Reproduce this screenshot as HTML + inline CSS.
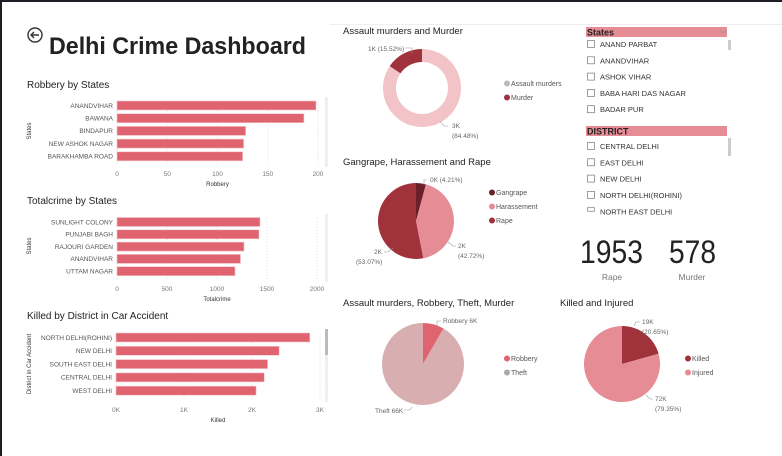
<!DOCTYPE html>
<html><head><meta charset="utf-8"><style>
html,body{margin:0;padding:0;background:#fff}
svg{display:block;font-family:"Liberation Sans",sans-serif}
</style></head><body>
<svg id="s" width="782" height="456" viewBox="0 0 782 456" xmlns="http://www.w3.org/2000/svg">
<rect x="0" y="0" width="782" height="2" fill="#1c1f26"/>
<rect x="0" y="0" width="2" height="456" fill="#1c1f26"/>
<line x1="330" y1="24.5" x2="782" y2="24.5" stroke="#eee"/>
<g><circle cx="35" cy="35" r="7" fill="none" stroke="#333" stroke-width="1.4"/><path d="M39 35H31M34 32l-3 3 3 3" fill="none" stroke="#333" stroke-width="1.4"/></g>
<text x="49" y="54" font-size="24" font-weight="bold" fill="#222" textLength="257" lengthAdjust="spacingAndGlyphs">Delhi Crime Dashboard</text>
<g id="bars"></g><g id="pies"></g>
<g>
<rect x="586" y="27" width="141" height="10" fill="#e58c94"/>
<text x="587" y="35.5" font-size="9" font-weight="bold" fill="#222">States</text>
<path d="M720 30l3 3 3-3" fill="none" stroke="#999" stroke-width="0.8"/>
<rect x="728" y="40" width="3" height="10" fill="#ccc"/>
</g>
<g>
<rect x="586" y="126" width="141" height="10" fill="#e58c94"/>
<text x="587" y="134.5" font-size="9" font-weight="bold" fill="#222">DISTRICT</text>
<rect x="728" y="138" width="3" height="18" fill="#ccc"/>
</g>
<g id="slicers"></g>
<text x="580" y="263" font-size="32" fill="#222" textLength="63" lengthAdjust="spacingAndGlyphs">1953</text>
<text x="612" y="280" font-size="8.5" fill="#777" text-anchor="middle">Rape</text>
<text x="669" y="263" font-size="32" fill="#222" textLength="47" lengthAdjust="spacingAndGlyphs">578</text>
<text x="692" y="280" font-size="8.5" fill="#777" text-anchor="middle">Murder</text>
</svg>
<script>
const robCats=["ANANDVIHAR","BAWANA","BINDAPUR","NEW ASHOK NAGAR","BARAKHAMBA ROAD"];
const robVals=[198,186,128,126,125];
const robTicks=[0,50,100,150,200];
const totCats=["SUNLIGHT COLONY","PUNJABI BAGH","RAJOURI GARDEN","ANANDVIHAR","UTTAM NAGAR"];
const totVals=[1430,1420,1270,1235,1180];
const totTicks=[0,500,1000,1500,2000];
const kilCats=["NORTH DELHI(ROHINI)","NEW DELHI","SOUTH EAST DELHI","CENTRAL DELHI","WEST DELHI"];
const kilVals=[2850,2400,2230,2180,2060];
const kilTicks=[0,1000,2000,3000];
const kilTickLabels=["0K","1K","2K","3K"];
const amCats=["Assault murders","Murder"];
const amVals=[84.48,15.52];
const grCats=["Gangrape","Harassement","Rape"];
const grVals=[4.21,42.72,53.07];
const rtCats=["Robbery","Theft"];
const rtVals=[6,66];
const kiCats=["Killed","Injured"];
const kiVals=[20.65,79.35];
const stateItems=["ANAND PARBAT","ANANDVIHAR","ASHOK VIHAR","BABA HARI DAS NAGAR","BADAR PUR"];
const districtItems=["CENTRAL DELHI","EAST DELHI","NEW DELHI","NORTH DELHI(ROHINI)","NORTH EAST DELHI"];

const NS="http://www.w3.org/2000/svg";
function mk(p,t,a,txt){const e=document.createElementNS(NS,t);for(const k in a)e.setAttribute(k,a[k]);if(txt!==undefined)e.textContent=txt;p.appendChild(e);return e;}
const bars=document.getElementById('bars');
function barChart(o){
  const g=mk(bars,'g',{});
  
  
  const t=mk(g,'text',{x:27,y:o.titleY,'font-size':10,fill:'#222'},o.title);
  
  
  const x=v=>o.x0+(v-o.min)/(o.max-o.min)*(o.x1-o.x0);
  o.ticks.forEach((v,i)=>{
    mk(g,'line',{x1:x(v),x2:x(v),y1:o.y0-4,y2:o.y0+o.step*o.cats.length-4,stroke:'#ddd','stroke-dasharray':'1 2'});
    const tl=mk(g,'text',{x:x(v),y:o.tickY,'font-size':6.5,fill:'#777','text-anchor':'middle'},o.tickLabels?o.tickLabels[i]:v);
    
    
  });
  o.cats.forEach((c,i)=>{
    const cy=o.y0+i*o.step;
    const r=mk(g,'rect',{x:x(0),y:cy-4.5,width:x(o.vals[i])-x(0),height:9,fill:'#e06470',stroke:'#f4c4c8','stroke-width':0.6});
    
    
    const l=mk(g,'text',{x:o.x0-4,y:cy+2.3,'font-size':6.5,fill:'#555','text-anchor':'end'},c);
    
    
  });
  const at=mk(g,'text',{x:(o.x0+o.x1)/2,y:o.tickY+10,'font-size':6,fill:'#333','text-anchor':'middle'},o.xTitle);
  
  
  const yt=mk(g,'text',{x:0,y:0,'font-size':6,fill:'#333','text-anchor':'middle',transform:`translate(${o.yTitleX},${o.yTitleY}) rotate(-90)`},o.yTitle);
  
  
  const sb=mk(g,'rect',{x:325,y:o.sbY,width:3,height:o.sbH,fill:'#f0f0f0'});
  
  
  if(o.thumb){mk(g,'rect',{x:325,y:o.sbY,width:3,height:26,fill:'#bbb'});}
}
barChart({name:'robbery-chart',title:'Robbery by States',titleY:88,cats:robCats,vals:robVals,ticks:robTicks,min:0,max:200,x0:117,x1:318,y0:105.5,step:12.7,tickY:176,xTitle:'Robbery',yTitle:'States',yTitleX:31,yTitleY:131,sbY:97,sbH:70});
barChart({name:'totalcrime-chart',title:'Totalcrime by States',titleY:204,cats:totCats,vals:totVals,ticks:totTicks,min:0,max:2000,x0:117,x1:317,y0:222,step:12.3,tickY:291,xTitle:'Totalcrime',yTitle:'States',yTitleX:31,yTitleY:246,sbY:214,sbH:68});
barChart({name:'killed-chart',title:'Killed by District in Car Accident',titleY:319,cats:kilCats,vals:kilVals,ticks:kilTicks,tickLabels:kilTickLabels,min:0,max:3000,x0:116,x1:320,y0:337.5,step:13.3,tickY:412,xTitle:'Killed',yTitle:'District in Car Accident',yTitleX:31,yTitleY:364,sbY:329,sbH:73,thumb:true});

const pies=document.getElementById('pies');
function pie(o){
  const g=mk(pies,'g',{});
  
  
  const t=mk(g,'text',{x:o.tx,y:o.ty,'font-size':9.5,fill:'#222'},o.title);
  
  
  const tot=o.vals.reduce((a,b)=>a+b,0);let a=-Math.PI/2;
  o.vals.forEach((v,i)=>{
    const a2=a+v/tot*2*Math.PI,R=o.r,r=o.ri||0,lg=(a2-a)>Math.PI?1:0;
    const P=(rr,an)=>[o.cx+rr*Math.cos(an),o.cy+rr*Math.sin(an)];
    const [x1,y1]=P(R,a),[x2,y2]=P(R,a2);let d;
    if(r){const [x3,y3]=P(r,a2),[x4,y4]=P(r,a);d=`M${x1} ${y1}A${R} ${R} 0 ${lg} 1 ${x2} ${y2}L${x3} ${y3}A${r} ${r} 0 ${lg} 0 ${x4} ${y4}Z`;}
    else d=`M${o.cx} ${o.cy}L${x1} ${y1}A${R} ${R} 0 ${lg} 1 ${x2} ${y2}Z`;
    const p=mk(g,'path',{d:d,fill:o.colors[i]});
    
    
    a=a2;
  });
  o.cats.forEach((c,i)=>{
    const ly=o.ly+i*14;
    const le=mk(g,'g',{});
    
    
    mk(le,'circle',{cx:o.lx,cy:ly-2.5,r:3,fill:o.lcolors?o.lcolors[i]:o.colors[i]});
    mk(le,'text',{x:o.lx+4,y:ly,'font-size':7,fill:'#555'},c);
  });
  o.labels.forEach(l=>{
    const e=mk(g,'text',{x:l[0],y:l[1],'font-size':6.5,fill:'#666'},l[2]);
    
    
  });
  o.leaders.forEach(d=>mk(g,'path',{d:d,fill:'none',stroke:'#999','stroke-width':0.6}));
}
pie({name:'assault-murder-donut',title:'Assault murders and Murder',tx:343,ty:34,cats:amCats,vals:amVals,colors:['#f2c4c8','#a0323c'],lcolors:['#bbb','#a0323c'],cx:422,cy:88,r:39,ri:26,lx:507,ly:86,
 labels:[[368,51,'1K (15.52%)'],[452,128,'3K'],[452,138,'(84.48%)']],leaders:['M405 48h7v5','M448 126h-4l-4-5']});
pie({name:'gangrape-harassement-rape-pie',title:'Gangrape, Harassement and Rape',tx:343,ty:165,cats:grCats,vals:grVals,colors:['#6b1f28','#e58c94','#a0323c'],cx:416,cy:221,r:38,lx:492,ly:195,
 labels:[[430,182,'0K (4.21%)'],[458,248,'2K'],[458,258,'(42.72%)'],[374,254,'2K'],[356,264,'(53.07%)']],leaders:['M427 180h-3v5','M456 246h-3l-5-4','M384 252h4l5-4']});
pie({name:'robbery-theft-pie',title:'Assault murders, Robbery, Theft, Murder',tx:343,ty:306,cats:rtCats,vals:rtVals,colors:['#e06470','#d8aeb0'],lcolors:['#e06470','#aaa'],cx:423,cy:364,r:41,lx:507,ly:361,
 labels:[[443,323,'Robbery 6K'],[375,413,'Theft 66K']],leaders:['M441 321h-4v5','M404 410h6l2-3']});
pie({name:'killed-injured-pie',title:'Killed and Injured',tx:560,ty:306,cats:kiCats,vals:kiVals,colors:['#a0323c','#e58c94'],cx:622,cy:364,r:38,lx:688,ly:361,
 labels:[[642,324,'19K'],[642,334,'(20.65%)'],[655,401,'72K'],[655,411,'(79.35%)']],leaders:['M640 322h-4l-2 4','M653 399h-3l-4-4']});

const sl=document.getElementById('slicers');
function items(list,y0,clipY){
  list.forEach((s,i)=>{
    const y=y0+i*16.3;
    const g=mk(sl,'g',{});
    
    
    if(y>clipY){mk(g,'rect',{x:587.5,y:y-3.5,width:7,height:3.5,fill:'none',stroke:'#777','stroke-width':0.7});mk(g,'text',{x:600,y:y+3.5,'font-size':7.5,fill:'#333'},s);return;}
    mk(g,'rect',{x:587.5,y:y-3.5,width:7,height:7,fill:'#fff',stroke:'#777','stroke-width':0.7});
    mk(g,'text',{x:600,y:y+3,'font-size':7.5,fill:'#333'},s);
  });
}
items(stateItems,44,999);
items(districtItems,146,205);
</script>
</body></html>
